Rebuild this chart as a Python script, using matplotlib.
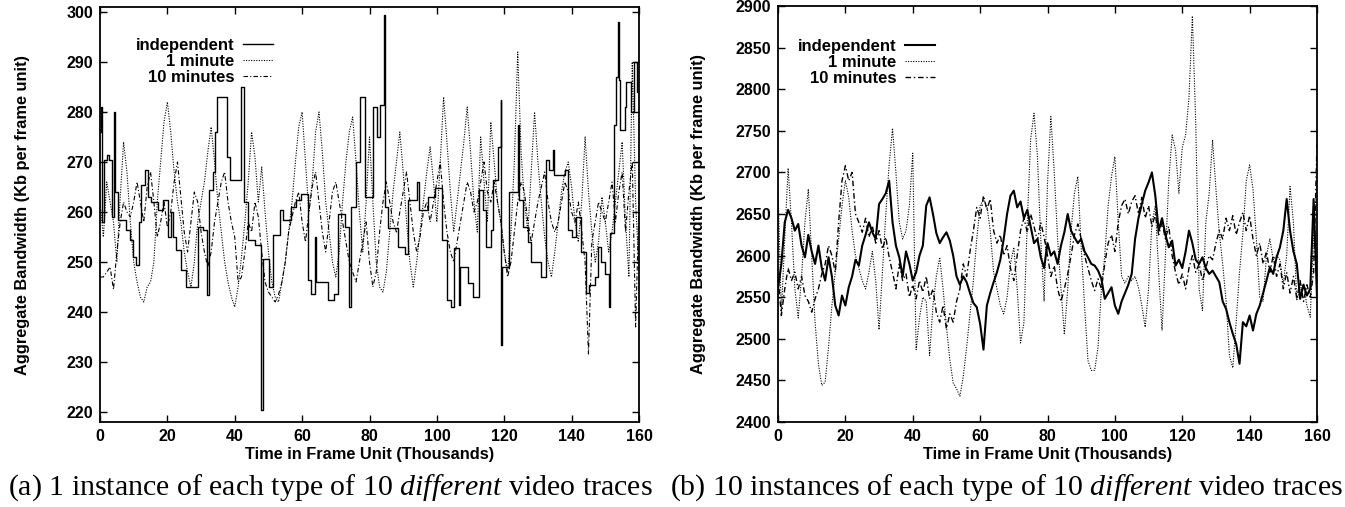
import numpy as np
import matplotlib
matplotlib.use("Agg")
import matplotlib.pyplot as plt

plt.rcParams['font.family'] = ['Liberation Sans', 'DejaVu Sans']
plt.rcParams['font.weight'] = 'bold'
plt.rcParams['axes.labelweight'] = 'bold'
plt.rcParams['mathtext.fontset'] = 'custom'
plt.rcParams['mathtext.rm'] = 'Liberation Serif:weight=normal'
plt.rcParams['mathtext.it'] = 'Liberation Serif:style=italic:weight=normal'

# ---- panel (a): 1 instance of each type ----
# independent: step trace, breakpoints (thousands of frames) and levels
a_ind_x = [0, 0.3, 0.7, 1.2, 2.2, 2.8, 3.6, 4.3, 4.6, 5.3, 7.8, 8.8, 9.8, 10.6, 11.5,
           12.2, 13.3, 14.3, 15.2, 17.2, 18.7, 20.2, 21.0, 21.6, 22.7, 24.1, 25.6, 29.0,
           30.6, 31.8, 32.5, 33.5, 34.2, 34.7, 37.7, 38.5, 41.8, 42.6, 44.0, 45.9, 47.9,
           48.3, 50.3, 51.3, 53.3, 54.3, 56.8, 58.3, 59.7, 61.7, 62.7, 63.7, 64.2, 67.7,
           69.6, 70.6, 72.6, 74.0, 74.4, 76.0, 77.2, 78.7, 81.0, 82.2, 83.2, 84.3, 84.7,
           85.5, 88.5, 90.5, 91.5, 94.2, 94.7, 97.3, 99.3, 101.5, 103.0, 104.3, 105.0,
           106.7, 106.9, 109.2, 110.7, 112.6, 113.6, 114.6, 116.1, 116.6, 118.1, 118.9,
           119.1, 119.3, 121.5, 124.0, 124.5, 125.5, 127.0, 128.0, 131.0, 132.4, 133.4,
           134.4, 134.9, 137.9, 138.9, 140.0, 141.3, 142.8, 144.3, 145.3, 146.8, 147.8,
           148.8, 149.8, 151.2, 151.5, 152.7, 153.2, 153.7, 154.0, 154.3, 155.8, 156.2,
           157.6, 158.6, 159.3, 160.0]
a_ind_y = [276, 281, 258, 270.5, 271.5, 270.5, 259, 280, 264, 258.5, 256.5, 254.5, 251,
           249.5, 258, 265.5, 268.5, 263, 262, 260.5, 262.5, 255, 260, 255, 252.5, 248.5,
           245, 257, 256.5, 243.5, 264.5, 268, 276, 283, 271, 266.5, 285, 262, 254.5,
           253.5, 220.4, 250.7, 245, 255.5, 260.5, 258.5, 261, 262.5, 263.7, 246.5, 243.7,
           255, 246, 242.4, 243.7, 259.7, 257, 241, 261, 270, 283, 263, 281, 275, 281.5,
           299.4, 261, 256.8, 253, 251.7, 262.4, 266, 260.4, 263, 264.8, 254.4, 242.4, 241,
           252.8, 241.5, 249, 245.8, 243, 264.4, 260.4, 253, 256.4, 266.4, 273, 282.4,
           233.4, 249, 264, 277.4, 262.4, 257, 254, 250, 247, 270.4, 268.4, 272.4, 267.4,
           268.4, 256.4, 255, 259, 252, 243.8, 245.4, 247, 253, 250, 247.6, 241, 255.8,
           277.4, 287, 298, 286.4, 276.4, 281, 286, 280, 290, 284, 284]

a_k = list(range(0, 161))
a_1min = [262, 255, 266, 262, 258, 250, 263, 274, 268, 258, 250, 246, 243, 242, 245, 246,
          250, 262, 270, 278, 282, 276, 268, 262, 258, 252, 248, 245, 250, 258, 262, 266,
          272, 277, 270, 262, 256, 250, 246, 243, 241, 245, 251, 258, 266, 276, 271, 262,
          269, 260, 252, 246, 243, 242, 246, 250, 256, 262, 270, 277, 280, 270, 260, 266,
          276, 280, 272, 262, 256, 250, 247, 252, 262, 270, 276, 279, 270, 260, 252, 262,
          275, 262, 250, 245, 244, 248, 256, 264, 270, 276, 268, 258, 250, 245, 250, 256,
          262, 268, 273, 266, 258, 270, 283, 274, 264, 256, 262, 268, 274, 281, 272, 262,
          256, 275, 266, 258, 278, 270, 262, 258, 252, 248, 256, 270, 292, 272, 262, 256,
          268, 280, 270, 262, 255, 250, 247, 252, 258, 264, 268, 270, 265, 258, 254, 262,
          275, 264, 256, 250, 254, 263, 258, 252, 256, 262, 268, 274, 258, 247, 290, 262, 248]
a_10min = [247, 247, 248, 249, 244.5, 252, 258, 262, 260, 259, 262, 266, 262, 258, 265,
           268, 262, 255, 258, 262, 257, 260, 266, 270, 263, 256, 252, 258, 264, 262, 256,
           252, 249, 252, 258, 262, 266, 268, 262, 258, 255, 246, 247, 252, 258, 256, 262,
           259, 252, 246, 244, 243, 242, 243.5, 246, 250, 256, 259, 262, 264, 258, 254, 260,
           265, 268, 262, 256, 252, 258, 264, 266, 262, 258, 254, 250, 248, 246, 250, 254,
           258, 250, 245, 248, 256, 262, 266, 262, 258, 256, 260, 264, 268, 262, 256, 252,
           255, 260, 262, 258, 262, 266, 270, 262, 256, 252, 250, 254, 258, 262, 266, 264,
           260, 262, 266, 270, 264, 262, 266, 262, 258, 252, 247, 250, 256, 262, 266, 264,
           258, 254, 258, 262, 265, 268, 262, 258, 256, 258, 262, 266, 264, 260, 258, 262,
           256, 250, 231.6, 254, 258, 262, 260, 258, 262, 266, 258, 264, 268, 256, 264, 270,
           237, 262]

# ---- panel (b): 10 instances of each type ----
b_k = list(range(0, 161))
b_ind = [2560, 2590, 2640, 2655, 2645, 2630, 2638, 2612, 2598, 2625, 2605, 2590, 2612,
         2585, 2570, 2598, 2575, 2540, 2528, 2552, 2540, 2562, 2575, 2595, 2588, 2612,
         2625, 2640, 2628, 2620, 2662, 2668, 2675, 2690, 2640, 2612, 2598, 2575, 2605,
         2590, 2570, 2580, 2600, 2612, 2660, 2670, 2650, 2627, 2615, 2622, 2628, 2618,
         2600, 2575, 2565, 2575, 2568, 2555, 2543, 2538, 2518, 2487, 2540, 2555, 2568,
         2580, 2595, 2620, 2650, 2672, 2678, 2658, 2665, 2645, 2655, 2635, 2615, 2620,
         2598, 2585, 2615, 2600, 2605, 2590, 2612, 2628, 2650, 2630, 2622, 2615, 2620,
         2605, 2598, 2590, 2588, 2582, 2572, 2548, 2555, 2562, 2540, 2530, 2545, 2555,
         2565, 2578, 2620, 2645, 2662, 2678, 2688, 2700, 2672, 2630, 2645, 2625, 2610,
         2618, 2588, 2595, 2585, 2605, 2630, 2615, 2595, 2590, 2598, 2585, 2578, 2582,
         2575, 2568, 2545, 2536, 2520, 2506, 2494, 2470, 2520, 2515, 2528, 2510, 2530,
         2540, 2555, 2570, 2586, 2578, 2598, 2610, 2630, 2668, 2630, 2605, 2590, 2548,
         2565, 2552, 2560, 2668, 2550]
b_1min = [2682, 2530, 2620, 2705, 2640, 2560, 2525, 2575, 2640, 2680, 2600, 2520, 2470,
          2444, 2448, 2490, 2540, 2580, 2620, 2660, 2690, 2670, 2630, 2600, 2585, 2570,
          2560, 2580, 2605, 2570, 2511, 2580, 2650, 2710, 2753, 2700, 2640, 2620, 2630,
          2660, 2723, 2487, 2525, 2550, 2545, 2480, 2540, 2575, 2598, 2560, 2515, 2475,
          2447, 2440, 2431, 2455, 2490, 2530, 2570, 2620, 2660, 2667, 2660, 2630, 2580,
          2560, 2540, 2530, 2550, 2590, 2610, 2560, 2495, 2520, 2640, 2740, 2771, 2720,
          2620, 2545, 2687, 2767, 2700, 2620, 2560, 2505, 2560, 2630, 2675, 2695, 2610,
          2540, 2474, 2462, 2462, 2490, 2560, 2600, 2660, 2695, 2719, 2640, 2575, 2567,
          2575, 2570, 2575, 2562, 2540, 2514, 2560, 2640, 2660, 2580, 2510, 2600, 2690,
          2745, 2727, 2675, 2730, 2745, 2790, 2888, 2760, 2560, 2534, 2640, 2675, 2739,
          2680, 2627, 2590, 2546, 2480, 2465, 2520, 2580, 2627, 2690, 2709, 2680, 2620,
          2550, 2545, 2600, 2620, 2595, 2600, 2595, 2566, 2600, 2683, 2640, 2546, 2560,
          2566, 2540, 2526, 2627, 2690]
b_10min = [2575, 2528, 2560, 2585, 2570, 2580, 2560, 2575, 2552, 2545, 2532, 2548, 2560,
           2578, 2590, 2612, 2600, 2580, 2640, 2690, 2708, 2690, 2700, 2650, 2640, 2628,
           2645, 2622, 2636, 2615, 2630, 2608, 2622, 2598, 2580, 2560, 2590, 2570, 2578,
           2550, 2565, 2548, 2570, 2556, 2575, 2548, 2560, 2532, 2520, 2540, 2512, 2530,
           2520, 2545, 2560, 2590, 2575, 2605, 2630, 2658, 2645, 2672, 2655, 2668, 2630,
           2615, 2625, 2600, 2612, 2585, 2570, 2600, 2630, 2645, 2628, 2650, 2635, 2618,
           2640, 2622, 2600, 2575, 2588, 2560, 2545, 2560, 2578, 2600, 2625, 2638, 2620,
           2600, 2585, 2570, 2558, 2572, 2560, 2590, 2615, 2625, 2605, 2640, 2660, 2668,
           2650, 2665, 2672, 2650, 2670, 2645, 2660, 2635, 2650, 2625, 2640, 2620, 2635,
           2600, 2580, 2565, 2578, 2560, 2585, 2600, 2580, 2590, 2570, 2585, 2600, 2595,
           2615, 2630, 2620, 2645, 2630, 2648, 2625, 2640, 2652, 2630, 2648, 2620, 2600,
           2615, 2590, 2605, 2580, 2600, 2575, 2590, 2560, 2580, 2555, 2575, 2548, 2570,
           2545, 2565, 2550, 2580, 2735]

labels = ["independent", "1 minute", "10 minutes"]
captions = [r"(a) 1 instance of each type of 10 $\it{different}$ video traces",
            r"(b) 10 instances of each type of 10 $\it{different}$ video traces"]

dotted = (0, (1.0, 1.3))
dashdot = (0, (4, 2, 1, 2))

fig = plt.figure(figsize=(13.45, 5.07), dpi=100)
ax1 = fig.add_axes([100/1345, 1-422/507, 539/1345, 415/507])
ax2 = fig.add_axes([778/1345, 1-422/507, 539/1345, 416/507])

ax1.step(a_ind_x, a_ind_y, where='post', color='black', lw=1.0, label=labels[0])
ax1.plot(a_k, a_1min, color='black', lw=0.8, ls=dotted, label=labels[1])
ax1.plot(a_k, a_10min, color='black', lw=0.8, ls=dashdot, label=labels[2])
ax1.set_ylim(218, 301)
ax1.set_yticks(range(220, 301, 10))

ax2.plot(b_k, b_ind, color='black', lw=1.5, label=labels[0])
ax2.plot(b_k, b_1min, color='black', lw=0.8, ls=dotted, label=labels[1])
ax2.plot(b_k, b_10min, color='black', lw=1.0, ls=dashdot, label=labels[2])
ax2.set_ylim(2400, 2900)
ax2.set_yticks(range(2400, 2901, 50))

for ax, lx, ly in [(ax1, 273, 38), (ax2, 935, 40)]:
    ax.set_xlim(0, 160)
    ax.set_xticks(range(0, 161, 20))
    ax.tick_params(direction='in', length=5, width=1, top=True, right=True,
                   labelsize=11.5, pad=5)
    for s in ax.spines.values():
        s.set_linewidth(1.3)
    ax.set_xlabel("Time in Frame Unit (Thousands)", fontsize=11.8, labelpad=2)
    ax.set_ylabel("Aggregate Bandwidth (Kb per frame unit)", fontsize=11.8)
    left = ax.get_position().x0 * 1345
    ax.legend(loc='upper right', bbox_to_anchor=((lx - left) / 539, (422 - ly) / 415),
              frameon=False, markerfirst=False, fontsize=12, handlelength=1.8,
              handletextpad=0.5, labelspacing=0.05, borderpad=0, borderaxespad=0)

ax1.yaxis.set_label_coords(-70/539, 0.5)
ax2.yaxis.set_label_coords(-72/539, 0.5)

fig.text(330/1345, 1-488/507, captions[0], fontsize=21.5, fontweight='normal',
         family='Liberation Serif', ha='center', va='center')
fig.text(1006/1345, 1-488/507, captions[1], fontsize=21.5, fontweight='normal',
         family='Liberation Serif', ha='center', va='center')

fig.savefig("out.png", dpi=100)
